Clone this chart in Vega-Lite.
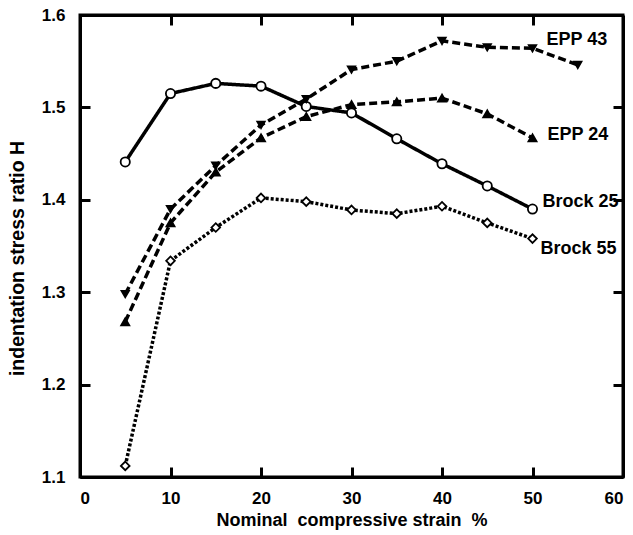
{
  "$schema": "https://vega.github.io/schema/vega-lite/v6.json",
  "width": 543,
  "height": 462,
  "autosize": "none",
  "padding": {"left": 80, "top": 15, "right": 10, "bottom": 58},
  "background": "white",
  "config": {
    "font": "Liberation Sans",
    "view": {"stroke": "black", "strokeWidth": 3},
    "axis": {
      "grid": false,
      "domainColor": "black",
      "domainWidth": 3,
      "tickColor": "black",
      "tickWidth": 3,
      "tickSize": -10,
      "labelFont": "Liberation Sans",
      "labelFontSize": 17,
      "labelFontWeight": "bold",
      "labelColor": "black",
      "titleFont": "Liberation Sans",
      "titleFontSize": 18,
      "titleFontWeight": "bold",
      "titleColor": "black"
    }
  },
  "data": {
    "values": [
      {"series": "Brock 25", "strain": 5, "H": 1.441},
      {"series": "Brock 25", "strain": 10, "H": 1.515},
      {"series": "Brock 25", "strain": 15, "H": 1.526},
      {"series": "Brock 25", "strain": 20, "H": 1.523},
      {"series": "Brock 25", "strain": 25, "H": 1.501},
      {"series": "Brock 25", "strain": 30, "H": 1.494},
      {"series": "Brock 25", "strain": 35, "H": 1.466},
      {"series": "Brock 25", "strain": 40, "H": 1.439},
      {"series": "Brock 25", "strain": 45, "H": 1.415},
      {"series": "Brock 25", "strain": 50, "H": 1.390},
      {"series": "Brock 55", "strain": 5, "H": 1.112},
      {"series": "Brock 55", "strain": 10, "H": 1.334},
      {"series": "Brock 55", "strain": 15, "H": 1.370},
      {"series": "Brock 55", "strain": 20, "H": 1.402},
      {"series": "Brock 55", "strain": 25, "H": 1.398},
      {"series": "Brock 55", "strain": 30, "H": 1.389},
      {"series": "Brock 55", "strain": 35, "H": 1.385},
      {"series": "Brock 55", "strain": 40, "H": 1.393},
      {"series": "Brock 55", "strain": 45, "H": 1.375},
      {"series": "Brock 55", "strain": 50, "H": 1.358},
      {"series": "EPP 24", "strain": 5, "H": 1.268},
      {"series": "EPP 24", "strain": 10, "H": 1.375},
      {"series": "EPP 24", "strain": 15, "H": 1.430},
      {"series": "EPP 24", "strain": 20, "H": 1.467},
      {"series": "EPP 24", "strain": 25, "H": 1.490},
      {"series": "EPP 24", "strain": 30, "H": 1.503},
      {"series": "EPP 24", "strain": 35, "H": 1.506},
      {"series": "EPP 24", "strain": 40, "H": 1.510},
      {"series": "EPP 24", "strain": 45, "H": 1.493},
      {"series": "EPP 24", "strain": 50, "H": 1.467},
      {"series": "EPP 43", "strain": 5, "H": 1.298},
      {"series": "EPP 43", "strain": 10, "H": 1.390},
      {"series": "EPP 43", "strain": 15, "H": 1.437},
      {"series": "EPP 43", "strain": 20, "H": 1.481},
      {"series": "EPP 43", "strain": 25, "H": 1.509},
      {"series": "EPP 43", "strain": 30, "H": 1.541},
      {"series": "EPP 43", "strain": 35, "H": 1.550},
      {"series": "EPP 43", "strain": 40, "H": 1.572},
      {"series": "EPP 43", "strain": 45, "H": 1.565},
      {"series": "EPP 43", "strain": 50, "H": 1.564},
      {"series": "EPP 43", "strain": 55, "H": 1.546}
    ]
  },
  "layer": [
    {
      "encoding": {
        "x": {
          "field": "strain", "type": "quantitative",
          "scale": {"domain": [0, 60], "nice": false, "zero": false},
          "axis": {
            "title": "Nominal\u00a0 compressive strain\u00a0 %",
            "values": [0, 10, 20, 30, 40, 50, 60],
            "format": "d",
            "labelPadding": 23,
            "titlePadding": 5
          }
        },
        "y": {
          "field": "H", "type": "quantitative",
          "scale": {"domain": [1.1, 1.6], "nice": false, "zero": false},
          "axis": {
            "title": "indentation stress ratio H",
            "values": [1.1, 1.2, 1.3, 1.4, 1.5, 1.6],
            "format": ".1f",
            "labelPadding": 25,
            "titlePadding": 14,
            "titleFontSize": 19.5,
            "titleY": 243
          }
        }
      },
      "layer": [
        {
          "mark": {"type": "line", "color": "black", "strokeWidth": 3.5},
          "encoding": {
            "detail": {"field": "series"},
            "strokeDash": {
              "field": "series", "type": "nominal",
              "scale": {
                "domain": ["Brock 25", "Brock 55", "EPP 24", "EPP 43"],
                "range": [[1, 0], [3, 2], [8, 4], [8, 4]]
              },
              "legend": null
            }
          }
        },
        {
          "mark": {"type": "point", "filled": true, "stroke": "black", "strokeWidth": 1.8, "opacity": 1},
          "encoding": {
            "shape": {
              "field": "series", "type": "nominal",
              "scale": {
                "domain": ["Brock 25", "Brock 55", "EPP 24", "EPP 43"],
                "range": ["circle", "diamond", "triangle-up", "triangle-down"]
              },
              "legend": null
            },
            "fill": {
              "field": "series", "type": "nominal",
              "scale": {
                "domain": ["Brock 25", "Brock 55", "EPP 24", "EPP 43"],
                "range": ["white", "white", "black", "black"]
              },
              "legend": null
            },
            "size": {
              "field": "series", "type": "nominal",
              "scale": {
                "domain": ["Brock 25", "Brock 55", "EPP 24", "EPP 43"],
                "range": [85, 55, 90, 90]
              },
              "legend": null
            }
          }
        },
        {
          "transform": [{"filter": "datum.series == 'EPP 43' && datum.strain == 50"}],
          "mark": {"type": "text", "align": "left", "baseline": "middle", "dx": 14, "dy": -8, "fontSize": 18, "fontWeight": "bold", "color": "black"},
          "encoding": {"text": {"field": "series"}}
        },
        {
          "transform": [{"filter": "datum.series == 'EPP 24' && datum.strain == 50"}],
          "mark": {"type": "text", "align": "left", "baseline": "middle", "dx": 15, "dy": -3, "fontSize": 18, "fontWeight": "bold", "color": "black"},
          "encoding": {"text": {"field": "series"}}
        },
        {
          "transform": [{"filter": "datum.series == 'Brock 25' && datum.strain == 50"}],
          "mark": {"type": "text", "align": "left", "baseline": "middle", "dx": 10, "dy": -7, "fontSize": 18, "fontWeight": "bold", "color": "black"},
          "encoding": {"text": {"field": "series"}}
        },
        {
          "transform": [{"filter": "datum.series == 'Brock 55' && datum.strain == 50"}],
          "mark": {"type": "text", "align": "left", "baseline": "middle", "dx": 8, "dy": 10, "fontSize": 18, "fontWeight": "bold", "color": "black"},
          "encoding": {"text": {"field": "series"}}
        }
      ]
    },
    {
      "mark": {"type": "point", "opacity": 0},
      "encoding": {
        "x": {
          "field": "strain", "type": "quantitative",
          "axis": {"orient": "top", "title": null, "labels": false, "values": [10, 20, 30, 40, 50]}
        },
        "y": {
          "field": "H", "type": "quantitative",
          "axis": {"orient": "right", "title": null, "labels": false, "values": [1.2, 1.3, 1.4, 1.5]}
        }
      }
    }
  ],
  "resolve": {"axis": {"x": "independent", "y": "independent"}}
}
